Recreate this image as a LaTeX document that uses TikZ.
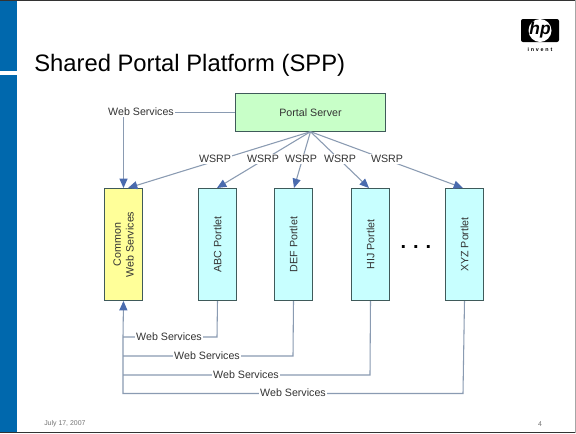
\documentclass[tikz,border=0pt]{standalone}
\usepackage{fontspec}
\setmainfont{Liberation Sans}
\usetikzlibrary{arrows.meta}
\definecolor{barblue}{HTML}{0068AD}
\definecolor{linecol}{HTML}{8A9BB2}
\definecolor{tipcol}{HTML}{4A6BAE}
\definecolor{boxline}{HTML}{3F5A5A}
\definecolor{txt}{HTML}{333333}
\definecolor{cyanfill}{HTML}{C8FFFF}
\definecolor{greenfill}{HTML}{C8FFC8}
\definecolor{yellowfill}{HTML}{FFFF99}
\tikzset{
  x=0.75pt,y=-0.75pt,
  portlet/.style={draw=boxline,line width=0.75pt,fill=cyanfill,minimum width=28.5pt,minimum height=84pt,inner sep=0pt,anchor=north west},
  vlabel/.style={rotate=90,align=center,font=\fontsize{8}{9.5}\selectfont,text=txt},
  conn/.style={draw=linecol,line width=0.8pt},
  arrowconn/.style={conn,-{Triangle[length=7pt,width=6pt,color=tipcol]}},
  lab/.style={fill=white,inner sep=0.6pt,font=\fontsize{8}{9.5}\selectfont,text=txt}
}
\begin{document}
\begin{tikzpicture}
\useasboundingbox (0,0) rectangle (576,433);
\fill[white] (0,0) rectangle (576,433);
\fill[barblue] (0,0) rectangle (17,71);
\fill[barblue] (0,74.5) rectangle (17,433);
\draw[black!80,line width=0.9pt] (0,0.5) -- (576,0.5);
\draw[black!80,line width=0.9pt] (0,432.5) -- (576,432.5);
\draw[black!35,line width=0.5pt] (575.5,0) -- (575.5,433);
\node[anchor=base west,inner sep=0pt,font=\fontsize{17.85}{22}\selectfont,text=black] (title) at (34,71.5) {Shared Portal Platform (SPP)};
% logo
\fill[black,rounded corners=1.5pt] (521,19) rectangle (559,42);
\fill[white] (540,30.5) circle (11.5);
\node[inner sep=0pt,font=\bfseries\itshape\fontsize{13}{13}\selectfont,text=black] (hp) at (540,30) {hp};
\node[inner sep=0pt,font=\bfseries\fontsize{4}{5}\selectfont,text=black] (invent) at (540,50) {i\,\,n\,\,v\,\,e\,\,n\,\,t};
% boxes
\node[draw=boxline,line width=0.75pt,fill=greenfill,minimum width=113pt,minimum height=28pt,inner sep=0pt,font=\fontsize{8}{9.5}\selectfont,text=txt] (portal) at (310.5,112.5) {Portal Server};
\node[portlet,fill=yellowfill] (common) at (104,188) {};
\node[vlabel] at (common.center) {Common\\Web Services};
\node[portlet] (abc) at (198,188) {};
\node[vlabel] at (abc.center) {ABC Portlet};
\node[portlet] (def) at (274,188) {};
\node[vlabel] at (def.center) {DEF Portlet};
\node[portlet] (hij) at (351,188) {};
\node[vlabel] at (hij.center) {HIJ Portlet};
\node[portlet] (xyz) at (445,188) {};
\node[vlabel] at (xyz.center) {XYZ Portlet};
\node[inner sep=0pt,anchor=base,font=\bfseries\fontsize{15}{16}\selectfont,text=black] (dots) at (416,248) {.\hspace{5.2pt}.\hspace{5.2pt}.};
% connectors
\draw[arrowconn] (portal.west) -| (common.north);
\node[lab] at (141,112) {Web Services};
\foreach \t/\lx/\tx in {common/215/128,abc/263/217,def/301/294,hij/340/369,xyz/387/463}{
  \coordinate (tip) at (\tx,188);
  \draw[arrowconn] (portal.south) -- (tip);
  \node[lab] at (\lx,159) {WSRP};
}
\coordinate (c1) at (217,337);
\coordinate (c2) at (293,356);
\coordinate (c3) at (370,375);
\coordinate (c4) at (463,393.5);
\coordinate (j1) at (123,337);
\coordinate (j2) at (123,356);
\coordinate (j3) at (123,375);
\coordinate (j4) at (123,393.5);
\draw[conn] (abc.south) -- (c1) -- (j1);
\draw[conn] (def.south) -- (c2) -- (j2);
\draw[conn] (hij.south) -- (c3) -- (j3);
\draw[conn] (xyz.south) -- (c4) -- (j4) -- (j1);
\draw[arrowconn] (j1) -- (common.south);
\node[lab] at (169,336.5) {Web Services};
\node[lab] at (207,355.5) {Web Services};
\node[lab] at (246,374.5) {Web Services};
\node[lab] at (293,393) {Web Services};
\node[anchor=west,inner sep=0pt,font=\fontsize{5.2}{6}\selectfont,text=black!55] (date) at (44,424) {July 17, 2007};
\node[inner sep=0pt,font=\fontsize{5.2}{6}\selectfont,text=black!55] (page) at (540,424) {4};
\end{tikzpicture}
\end{document}
